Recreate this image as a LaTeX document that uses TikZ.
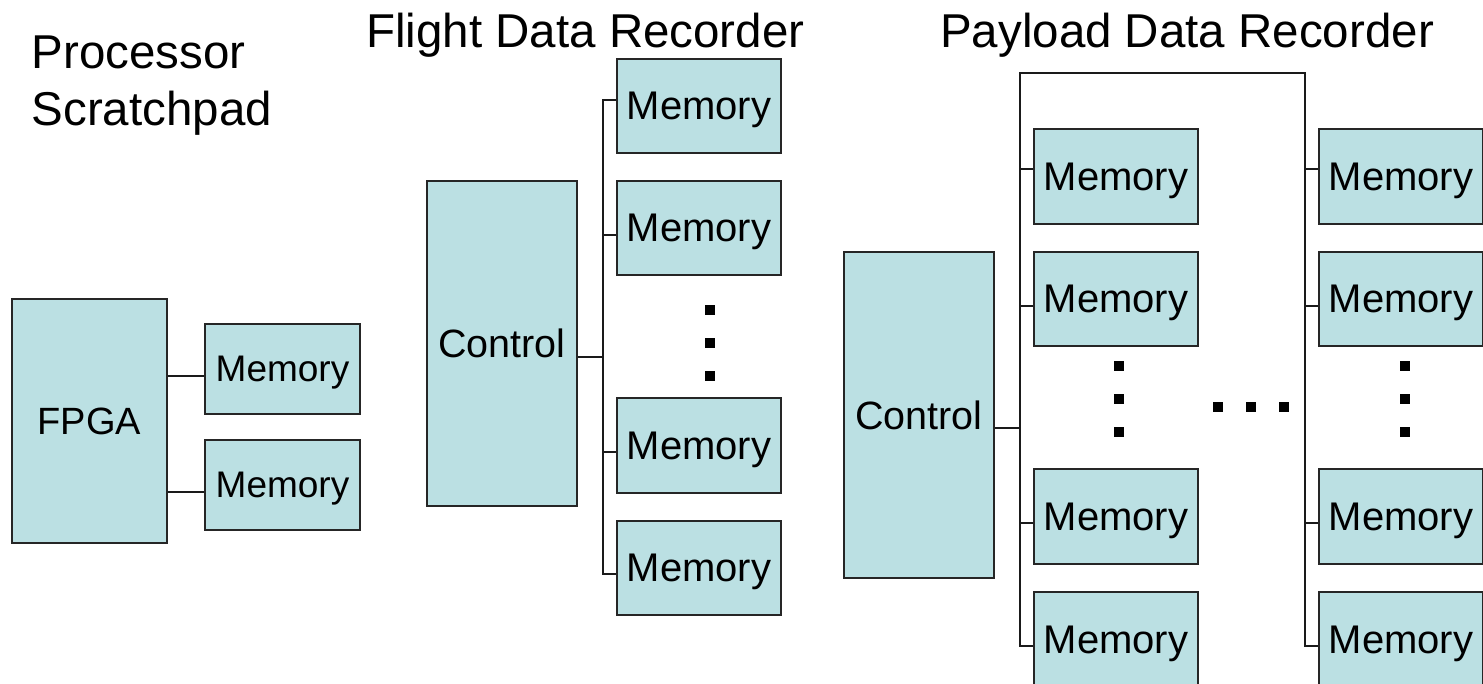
\documentclass[tikz,border=0pt]{standalone}
\usepackage{fontspec}
\setmainfont{Liberation Sans}
\usetikzlibrary{calc}
\definecolor{boxfill}{HTML}{BBE0E3}
\definecolor{boxline}{HTML}{262626}
\definecolor{wirecol}{HTML}{1A1A1A}

\begin{document}
\begin{tikzpicture}[x=1pt,y=-1pt,
  unit/.style={draw=boxline, line width=2pt, fill=boxfill, inner sep=0pt,
               text depth=0pt, anchor=center},
  mem/.style={unit, minimum width=164pt, minimum height=94.5pt,
              font=\fontsize{40}{48}\selectfont},
  smallmem/.style={unit, minimum width=155pt, minimum height=90pt,
              font=\fontsize{37}{44}\selectfont},
  ctrl/.style={unit, minimum width=150pt, minimum height=325.5pt,
              font=\fontsize{39.5}{47}\selectfont},
  fpgabox/.style={unit, minimum width=155pt, minimum height=244pt,
              font=\fontsize{38}{45}\selectfont},
  wire/.style={draw=wirecol, line width=1.6pt},
  title/.style={inner sep=0pt, anchor=base west, align=left,
              font=\fontsize{47.5}{57}\selectfont},
  dotsq/.style={fill=black}
]
\useasboundingbox (0,0) rectangle (1483,683);

% ---------- titles (base anchor sits on the last line) ----------
\node[title] (tproc)   at (31.5,125) {Processor\\Scratchpad};
\node[title] (tflight) at (366,47)   {Flight Data Recorder};
\node[title] (tpay)    at (940,47)   {Payload Data Recorder};

% ---------- processor scratchpad ----------
\node[fpgabox]  (fpga) at (89.5,421) {FPGA};
\node[smallmem] (sm1)  at (282.5,369) {Memory};
\node[smallmem] (sm2)  at (282.5,485) {Memory};
\coordinate (st1) at ($(sm1.west)+(0,7)$);
\coordinate (st2) at ($(sm2.west)+(0,7)$);
\draw[wire] (fpga.east |- st1) -- (st1);
\draw[wire] (fpga.east |- st2) -- (st2);

% ---------- flight data recorder ----------
\node[ctrl] (fctl) at (502,343.5) {Control};
\node[mem] (fm1) at (699,106)   {Memory};
\node[mem] (fm2) at (699,228)   {Memory};
\node[mem] (fm3) at (699,445.5) {Memory};
\node[mem] (fm4) at (699,568)   {Memory};
\coordinate (ft1) at ($(fm1.west)+(0,-6)$);
\coordinate (ft2) at ($(fm2.west)+(0,7)$);
\coordinate (ft3) at ($(fm3.west)+(0,6.5)$);
\coordinate (ft4) at ($(fm4.west)+(0,6)$);
\coordinate (fct) at ($(fctl.east)+(0,13.5)$);
\coordinate (fbus) at ($(ft1)+(-13,0)$);
\draw[wire] (ft1) -- (fbus) |- (ft4);
\draw[wire] (ft2) -- (fbus |- ft2);
\draw[wire] (ft3) -- (fbus |- ft3);
\draw[wire] (fct) -- (fbus |- fct);
\foreach \yy in {310,343,376}
  \fill[dotsq] (705,\yy-5) rectangle ++(10,10);

% ---------- payload data recorder ----------
\node[ctrl] (pctl) at (919,415) {Control};
\node[mem] (pl1) at (1116,176.5) {Memory};
\node[mem] (pl2) at (1116,299)   {Memory};
\node[mem] (pl3) at (1116,516.5) {Memory};
\node[mem] (pl4) at (1116,639.5) {Memory};
\node[mem] (pr1) at (1401,176.5) {Memory};
\node[mem] (pr2) at (1401,299)   {Memory};
\node[mem] (pr3) at (1401,516.5) {Memory};
\node[mem] (pr4) at (1401,639.5) {Memory};
\foreach \s in {l,r}{
  \coordinate (\s t1) at ($(p\s1.west)+(0,-7.5)$);
  \coordinate (\s t2) at ($(p\s2.west)+(0,7)$);
  \coordinate (\s t3) at ($(p\s3.west)+(0,6.5)$);
  \coordinate (\s t4) at ($(p\s4.west)+(0,6.5)$);
  \coordinate (\s btop) at ($(p\s1.north west)+(-13,-55)$);
}
\coordinate (pct) at ($(pctl.east)+(0,13)$);
\draw[wire] (lt4) -| (lbtop) -- (rbtop) |- (rt4);
\foreach \s in {l,r}{
  \draw[wire] (\s t1) -- (\s btop |- \s t1);
  \draw[wire] (\s t2) -- (\s btop |- \s t2);
  \draw[wire] (\s t3) -- (\s btop |- \s t3);
}
\draw[wire] (pct) -- (lbtop |- pct);
\foreach \yy in {366,399,432}{
  \fill[dotsq] (1114,\yy-5) rectangle ++(10,10);
  \fill[dotsq] (1400,\yy-5) rectangle ++(10,10);
}
\foreach \xx in {1218,1251,1284}
  \fill[dotsq] (\xx-5,402) rectangle ++(10,10);
\end{tikzpicture}
\end{document}
